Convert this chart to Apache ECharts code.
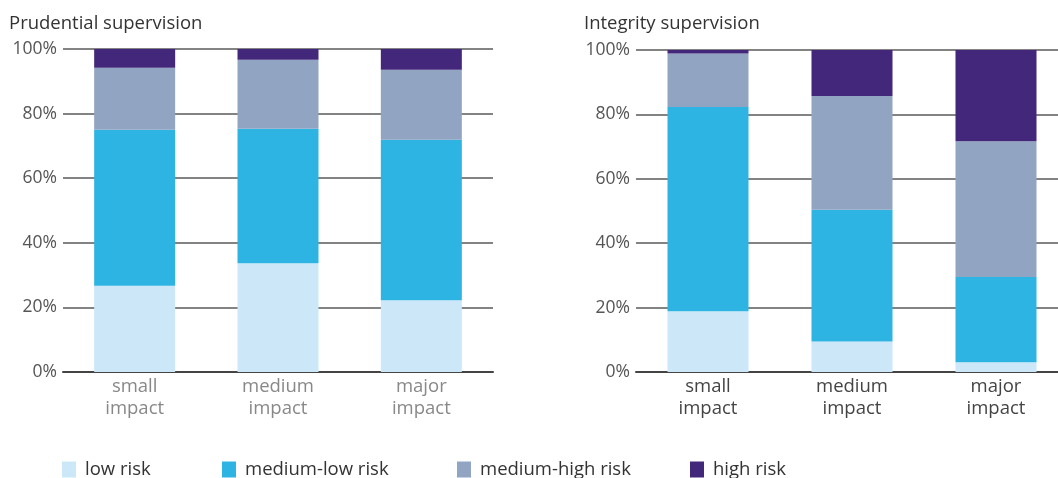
<!DOCTYPE html>
<html><head><meta charset="utf-8">
<script src="https://cdn.jsdelivr.net/npm/echarts@6/dist/echarts.min.js"></script>
<style>html,body{margin:0;padding:0;background:#fff;overflow:hidden}#c{width:1072px;height:478px}</style>
</head><body><div id="c"></div>
<script>
var categories = ['small\nimpact', 'medium\nimpact', 'major\nimpact'];
var seriesNames = ['low risk', 'medium-low risk', 'medium-high risk', 'high risk'];
var prudLow = [26.7, 33.7, 22.2];
var prudMedLow = [48.3, 41.6, 49.7];
var prudMedHigh = [19.2, 21.4, 21.7];
var prudHigh = [5.8, 3.3, 6.4];
var integLow = [18.9, 9.5, 3.0];
var integMedLow = [63.4, 40.9, 26.5];
var integMedHigh = [16.6, 35.3, 42.2];
var integHigh = [1.1, 14.3, 28.3];
var yTicks = [0, 20, 40, 60, 80, 100];
var colors = ['#cce8f8', '#2eb4e3', '#91a5c3', '#43277a'];
var FONT = 'Open Sans';

var prud = [prudLow, prudMedLow, prudMedHigh, prudHigh];
var integ = [integLow, integMedLow, integMedHigh, integHigh];

function yAxis(idx) {
  return {
    type: 'value', gridIndex: idx, min: yTicks[0], max: yTicks[yTicks.length - 1], interval: 20,
    axisLine: { show: false }, axisTick: { show: false },
    axisLabel: { formatter: '{value}%', color: '#555', fontSize: 17.5, fontFamily: FONT, margin: 6 },
    splitLine: { lineStyle: { color: '#5a5a5a', width: 1.5 } }
  };
}
function xAxis(idx, labelColor) {
  return {
    type: 'category', gridIndex: idx, data: categories,
    axisLine: { lineStyle: { color: '#444', width: 2 } }, axisTick: { show: false },
    axisLabel: { color: labelColor, fontSize: 18.5, fontFamily: FONT, lineHeight: 22, margin: 4 }
  };
}
var series = [];
[prud, integ].forEach(function (set, g) {
  set.forEach(function (vals, i) {
    series.push({
      name: seriesNames[i], type: 'bar', stack: 's' + g, xAxisIndex: g, yAxisIndex: g,
      data: vals, barWidth: 81, itemStyle: { color: colors[i] }, z: 3, silent: true
    });
  });
});
var legendLeft = [62, 222, 457, 690];
var legends = seriesNames.map(function (n, i) {
  return {
    data: [n], left: legendLeft[i], top: 460, padding: 0, itemWidth: 14, itemHeight: 16, itemGap: 0,
    icon: 'rect', selectedMode: false,
    textStyle: { color: '#333', fontSize: 18.5, fontFamily: FONT, padding: [0, 0, 0, 4] }
  };
});
var chart = echarts.init(document.getElementById('c'));
chart.setOption({
  animation: false,
  color: colors,
  title: [
    { text: 'Prudential supervision', left: 4, top: 9, textStyle: { color: '#333', fontSize: 18.5, fontWeight: 'normal', fontFamily: FONT } },
    { text: 'Integrity supervision', left: 579, top: 9, textStyle: { color: '#333', fontSize: 18.5, fontWeight: 'normal', fontFamily: FONT } }
  ],
  legend: legends,
  grid: [
    { left: 63, width: 430, top: 49, height: 323 },
    { left: 636, width: 432, top: 50, height: 322 }
  ],
  xAxis: [xAxis(0, '#888'), xAxis(1, '#444')],
  yAxis: [yAxis(0), yAxis(1)],
  series: series
});
</script></body></html>
